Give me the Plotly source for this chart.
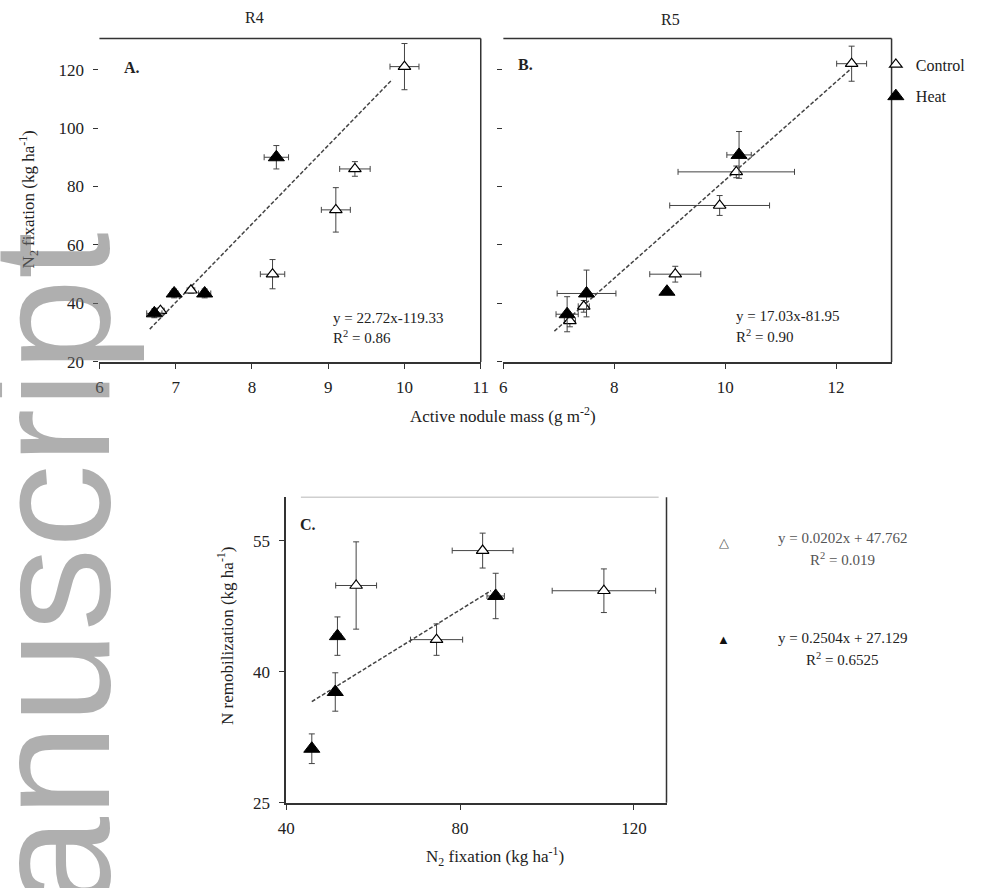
import plotly.graph_objects as go

W, H = 989, 888

# ---------------- data ----------------
# Panel A (R4): active nodule mass vs N2 fixation
a_ctrl_x = [10.0, 9.35, 9.1, 8.27, 7.2, 6.8]
a_ctrl_y = [121, 86, 72, 50, 44.5, 37.5]
a_ctrl_xerr = [0.19, 0.2, 0.19, 0.16, 0.05, 0.05]
a_ctrl_yerr = [7.9, 2.5, 7.6, 5.0, 1.0, 1.0]
a_heat_x = [8.32, 6.98, 7.38, 6.72]
a_heat_y = [90, 43.4, 43.4, 36.6]
a_heat_xerr = [0.16, 0.05, 0.08, 0.1]
a_heat_yerr = [4.0, 1.5, 1.5, 1.5]
a_fit_x = [6.66, 9.84]
a_fit_y = [31.2, 116.6]

# Panel B (R5)
b_ctrl_x = [12.28, 10.2, 9.9, 9.1, 7.45, 7.2]
b_ctrl_y = [122, 85, 73.5, 50, 39, 34]
b_ctrl_xerr = [0.27, 1.05, 0.9, 0.46, 0.1, 0.1]
b_ctrl_yerr = [6.0, 2.0, 3.4, 2.7, 2.0, 2.0]
b_heat_x = [10.25, 8.95, 7.5, 7.15]
b_heat_y = [90.8, 44, 43.4, 36.3]
b_heat_xerr = [0.22, 0.0, 0.53, 0.2]
b_heat_yerr = [8.0, 0.0, 8.0, 6.0]
b_fit_x = [6.92, 12.27]
b_fit_y = [30.5, 120.3]

# Panel C: N2 fixation vs N remobilization
c_ctrl_x = [56.1, 85.2, 113.1, 74.6]
c_ctrl_y = [49.9, 53.9, 49.3, 43.7]
c_ctrl_xerr = [4.7, 7.0, 11.9, 6.0]
c_ctrl_yerr = [5.0, 2.0, 2.5, 1.8]
c_heat_x = [45.9, 51.3, 51.8, 88.2]
c_heat_y = [31.2, 37.7, 44.1, 48.7]
c_heat_xerr = [0.5, 0.5, 0.8, 2.0]
c_heat_yerr = [1.7, 2.2, 2.2, 2.6]
c_fit_x = [45.9, 87.1]
c_fit_y = [36.6, 49.3]

stage_titles = ["R4", "R5"]
panel_letters = ["A.", "B.", "C."]
eq_a = ["y = 22.72x-119.33", "R<sup>2</sup> = 0.86"]
eq_b = ["y = 17.03x-81.95", "R<sup>2</sup> = 0.90"]
eq_c_ctrl = ["y = 0.0202x + 47.762", "R<sup>2</sup> = 0.019"]
eq_c_heat = ["y = 0.2504x + 27.129", "R<sup>2</sup> = 0.6525"]

# ---------------- helpers ----------------
def px(x):
    return x / W

def py(y):
    return 1 - y / H

SERIF = "Liberation Serif, Times New Roman, serif"
AX = "#333333"
ERR = "#444444"

fig = go.Figure()

def add_panel(xs, ys, xe, ye, xa, ya, ctrl, name, show):
    if ctrl:
        marker = dict(symbol="triangle-up", size=11, color="white",
                      line=dict(color="black", width=1.2))
    else:
        marker = dict(symbol="triangle-up", size=14, color="black",
                      line=dict(color="black", width=1))
    fig.add_trace(go.Scatter(
        x=xs, y=ys, mode="markers", marker=marker, name=name,
        legendgroup=name, showlegend=show, xaxis=xa, yaxis=ya,
        error_x=dict(type="data", array=xe, color=ERR, thickness=1, width=3),
        error_y=dict(type="data", array=ye, color=ERR, thickness=1, width=3),
    ))

def add_fit(xs, ys, xa, ya):
    fig.add_trace(go.Scatter(
        x=xs, y=ys, mode="lines", showlegend=False, xaxis=xa, yaxis=ya,
        line=dict(color="#444444", width=1.5, dash="4px,2px"),
    ))

# Panel A
add_fit(a_fit_x, a_fit_y, "x", "y")
add_panel(a_ctrl_x, a_ctrl_y, a_ctrl_xerr, a_ctrl_yerr, "x", "y", True, "Control", False)
add_panel(a_heat_x, a_heat_y, a_heat_xerr, a_heat_yerr, "x", "y", False, "Heat", False)
# Panel B (carries the legend)
add_fit(b_fit_x, b_fit_y, "x2", "y2")
add_panel(b_ctrl_x, b_ctrl_y, b_ctrl_xerr, b_ctrl_yerr, "x2", "y2", True, "Control", True)
add_panel(b_heat_x, b_heat_y, b_heat_xerr, b_heat_yerr, "x2", "y2", False, "Heat", True)
# Panel C
add_fit(c_fit_x, c_fit_y, "x3", "y3")
add_panel(c_ctrl_x, c_ctrl_y, c_ctrl_xerr, c_ctrl_yerr, "x3", "y3", True, "Control", False)
add_panel(c_heat_x, c_heat_y, c_heat_xerr, c_heat_yerr, "x3", "y3", False, "Heat", False)

tickfont = dict(family=SERIF, size=17, color="#222222")

def xax(dom, rng, dtick, anchor):
    return dict(domain=[px(dom[0]), px(dom[1])], range=rng, dtick=dtick, tick0=0,
                anchor=anchor, showgrid=False, zeroline=False, showline=True,
                linecolor=AX, linewidth=1.5, ticks="outside", ticklen=5,
                tickcolor=AX, tickfont=tickfont, ticklabelstandoff=4, fixedrange=True)

def yax(dom, rng, tickvals, anchor, labels=True, line=False):
    return dict(domain=[py(dom[1]), py(dom[0])], range=rng, tickvals=tickvals,
                anchor=anchor, showgrid=False, zeroline=False, showline=line,
                linecolor=AX, linewidth=1.5, ticks="outside", ticklen=5,
                tickcolor=AX, tickfont=tickfont, showticklabels=labels,
                ticklabelstandoff=6, fixedrange=True)

A_X, A_Y = (92, 480), (39, 366)
B_X, B_Y = (503, 898), (39, 366)
C_X, C_Y = (282, 669), (503, 812)

fig.update_layout(
    width=W, height=H,
    margin=dict(l=0, r=0, t=0, b=0),
    paper_bgcolor="white", plot_bgcolor="white",
    font=dict(family=SERIF, size=16, color="#222222"),
    xaxis=xax(A_X, [6, 11], 1, "y"),
    yaxis=yax(A_Y, [20, 130.6], [20, 40, 60, 80, 100, 120], "x"),
    xaxis2=xax(B_X, [6, 13], 2, "y2"),
    yaxis2=yax(B_Y, [20, 130.6], [20, 40, 60, 80, 100, 120], "x2", labels=False),
    xaxis3=dict(xax(C_X, [40, 127.5], 40, "y3"), tickvals=[40, 80, 120]),
    yaxis3=yax(C_Y, [25, 60], [25, 40, 55], "x3", line=True),
    legend=dict(x=px(882), y=py(48), xanchor="left", yanchor="top",
                bgcolor="rgba(0,0,0,0)", font=dict(family=SERIF, size=16, color="#222222"),
                tracegroupgap=8, traceorder="grouped", itemwidth=30),
    showlegend=True,
)

# frame lines (top / right) as in the reference
shapes = []
for (x0, x1), (y0, y1) in [(A_X, A_Y), (B_X, B_Y)]:
    shapes.append(dict(type="line", xref="paper", yref="paper", x0=px(x0), x1=px(x1),
                       y0=py(y0), y1=py(y0), line=dict(color=AX, width=1.5)))
    shapes.append(dict(type="line", xref="paper", yref="paper", x0=px(x1), x1=px(x1),
                       y0=py(y0), y1=py(y1), line=dict(color=AX, width=1.5)))
shapes.append(dict(type="line", xref="paper", yref="paper", x0=px(C_X[0] + 15), x1=px(C_X[1] - 8),
                   y0=py(C_Y[0]), y1=py(C_Y[0]), line=dict(color="#cfcfcf", width=1.5)))
shapes.append(dict(type="line", xref="paper", yref="paper", x0=px(C_X[1]), x1=px(C_X[1]),
                   y0=py(C_Y[0]), y1=py(C_Y[1]), line=dict(color=AX, width=1.5)))
fig.update_layout(shapes=shapes)

ann = []

def text(x, y, s, size=16, angle=0, xanchor="center", color="#222222", family=SERIF):
    ann.append(dict(x=px(x), y=py(y), xref="paper", yref="paper", text=s,
                    showarrow=False, textangle=angle, xanchor=xanchor, yanchor="middle",
                    font=dict(family=family, size=size, color=color)))

text(250, 18, stage_titles[0])
text(673, 20, stage_titles[1])
text(115, 68, "<b>" + panel_letters[0] + "</b>", xanchor="left", size=16)
text(516, 65, "<b>" + panel_letters[1] + "</b>", xanchor="left", size=16)
text(294, 530, "<b>" + panel_letters[2] + "</b>", xanchor="left", size=16)
text(328, 322, eq_a[0], size=15, xanchor="left")
text(328, 341, eq_a[1], size=15, xanchor="left")
text(738, 320, eq_b[0], size=15, xanchor="left")
text(738, 340, eq_b[1], size=15, xanchor="left")
text(503, 420, "Active nodule mass (g m<sup>-2</sup>)", size=17)
text(20, 202, "N<sub>2</sub> fixation (kg ha<sup>-1</sup>)", size=17, angle=-90)
text(220, 643, "N remobilization (kg ha<sup>-1</sup>)", size=17, angle=-90)
text(495, 866, "N<sub>2</sub> fixation (kg ha<sup>-1</sup>)", size=17)
text(727, 549, "△", size=13, color="#555555")
text(848, 544, eq_c_ctrl[0], size=15, color="#555555")
text(848, 565, eq_c_ctrl[1], size=15, color="#555555")
text(727, 647, "▲", size=13, color="#111111")
text(848, 645, eq_c_heat[0], size=15)
text(848, 666, eq_c_heat[1], size=15)
# watermark (semi-transparent so the chart shows through, as in the reference)
text(42, 648, "manuscript", size=167, angle=-90, color="rgba(110,110,110,0.55)",
     family="Liberation Sans, Arial, sans-serif")
fig.update_layout(annotations=ann)

fig.write_html("out.html")
